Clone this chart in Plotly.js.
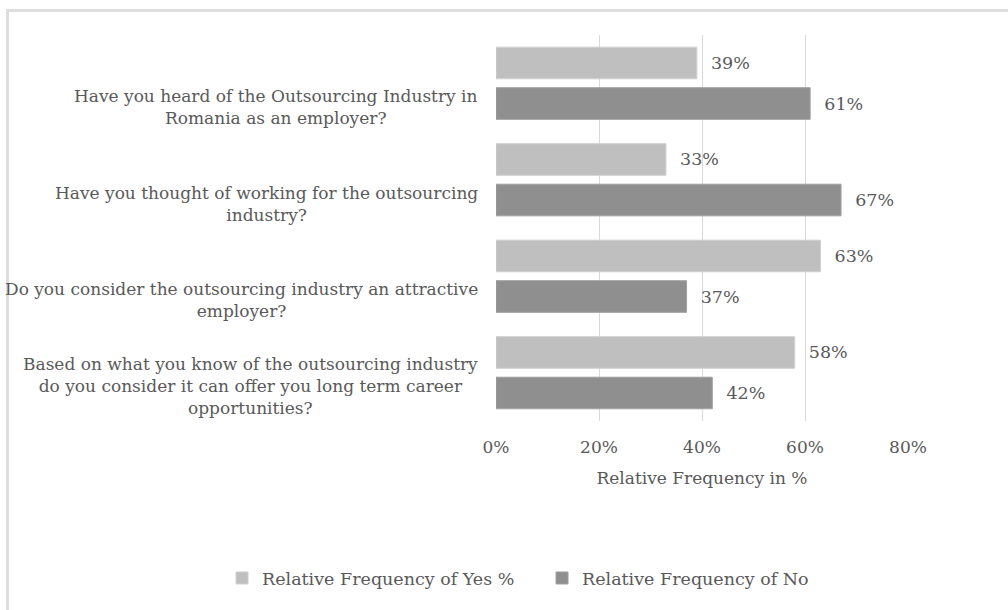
<!DOCTYPE html>
<html>
<head>
<meta charset="utf-8">
<script src="https://cdn.plot.ly/plotly-3.0.1.min.js"></script>
<style>
  html, body { margin: 0; padding: 0; background: #ffffff; overflow: hidden; }
  #frame { position: absolute; left: 6px; top: 9px; width: 1010px; height: 610px;
           border-left: 3px solid #dedede; border-top: 3px solid #dedede; }
  #chart { position: absolute; left: 0; top: 0; width: 1008px; height: 610px; }
</style>
</head>
<body>
<div id="frame"></div>
<div id="chart"></div>
<script>
const categories = [
  "Have you heard of the Outsourcing Industry in<br>Romania as an employer?",
  "Have you thought of working for the outsourcing<br>industry?",
  "Do you consider the outsourcing industry an attractive<br>employer?",
  "Based on what you know of the outsourcing industry<br>do you consider it can offer you long term career<br>opportunities?"
];
const yesValues = [39, 33, 63, 58];
const noValues = [61, 67, 37, 42];
const seriesNames = ["Relative Frequency of Yes %", "Relative Frequency of No"];
const tickValues = [0, 20, 40, 60, 80];
const tickLabels = ["0%", "20%", "40%", "60%", "80%"];

const FONT = "DejaVu Serif, Liberation Serif, serif";
const TXT = "#595959";

const traces = [
  {
    type: "bar", orientation: "h", name: seriesNames[0],
    y: categories, x: yesValues,
    marker: { color: "#bfbfbf", line: { color: "#d0d0d0", width: 1 } },
    texttemplate: "\u00a0\u00a0%{x}%", textposition: "outside",
    textfont: { family: FONT, size: 17.5, color: TXT },
    cliponaxis: false, hoverinfo: "x+y"
  },
  {
    type: "bar", orientation: "h", name: seriesNames[1],
    y: categories, x: noValues,
    marker: { color: "#8f8f8f", line: { color: "#a0a0a0", width: 1 } },
    texttemplate: "\u00a0\u00a0%{x}%", textposition: "outside",
    textfont: { family: FONT, size: 17.5, color: TXT },
    cliponaxis: false, hoverinfo: "x+y"
  }
];

const annotations = categories.map(c => ({
  text: c, xref: "paper", yref: "y", x: 0, y: c,
  xanchor: "right", yanchor: "bottom", xshift: -16, yshift: -47,
  align: "center", showarrow: false,
  font: { family: FONT, size: 17, color: TXT }
}));

const layout = {
  width: 1008, height: 610,
  margin: { l: 496, r: 100, t: 35, b: 189 },
  paper_bgcolor: "rgba(0,0,0,0)", plot_bgcolor: "rgba(0,0,0,0)",
  barmode: "group", bargap: 0.16, bargroupgap: 0.22,
  font: { family: FONT, color: TXT, size: 17 },
  xaxis: {
    range: [0, 80], tickvals: tickValues, ticktext: tickLabels,
    showgrid: true, gridcolor: "#d9d9d9", gridwidth: 1,
    zeroline: false, showline: false, ticks: "",
    ticklabelstandoff: 14,
    tickfont: { family: FONT, size: 17, color: TXT },
    title: { text: "Relative Frequency in %", font: { family: FONT, size: 17, color: TXT }, standoff: 16 }
  },
  yaxis: {
    type: "category", autorange: "reversed", showticklabels: false,
    showgrid: false, zeroline: false, showline: false, ticks: ""
  },
  showlegend: true,
  legend: {
    orientation: "h", xref: "paper", yref: "paper",
    x: -0.665, xanchor: "left", y: -0.407, yanchor: "middle",
    font: { family: FONT, size: 17.5, color: TXT }, itemwidth: 30,
    entrywidth: 275, entrywidthmode: "pixels"
  },
  annotations: annotations
};

Plotly.newPlot("chart", traces, layout, { displayModeBar: false, staticPlot: true });
</script>
</body>
</html>
